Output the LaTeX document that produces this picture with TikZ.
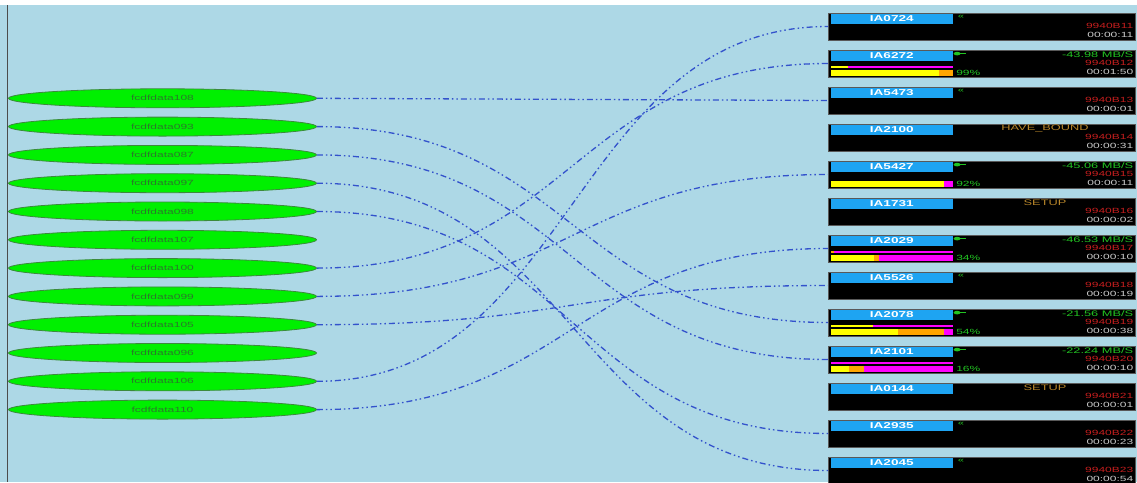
\documentclass[tikz,border=0pt]{standalone}
\usepackage{fontspec}
\usetikzlibrary{shapes.geometric, calc}
\newfontfamily\widesans[FakeStretch=1.6]{Liberation Sans}
\definecolor{bgblue}{HTML}{ADD8E6}
\definecolor{linkblue}{HTML}{3352CC}
\definecolor{hostgreen}{HTML}{00F000}
\definecolor{hostedge}{HTML}{3C8A3C}
\definecolor{hosttext}{HTML}{2A7A2A}
\definecolor{idblue}{HTML}{1EA4F2}
\definecolor{jobred}{HTML}{C41E1E}
\definecolor{timegray}{HTML}{C8C8C8}
\definecolor{rategreen}{HTML}{22C422}
\definecolor{stateorange}{HTML}{B8862A}
\definecolor{baryellow}{HTML}{FFFF00}
\definecolor{barorange}{HTML}{FFA500}
\definecolor{barmagenta}{HTML}{FF00FF}

\begin{document}
\begin{tikzpicture}[
  x=1pt, y=-1pt,
  host/.style={
    ellipse, draw=hostedge, line width=0.8pt, fill=hostgreen,
    minimum width=308pt, minimum height=19pt, inner sep=0pt,
    font=\widesans\fontsize{7.5}{8}\selectfont, text=hosttext
  },
  drive/.style={
    draw=gray!70!black, line width=0.8pt, fill=black,
    minimum width=307pt, minimum height=27pt, inner sep=0pt
  },
  idbar/.style={
    fill=idblue, minimum width=122pt, minimum height=9.5pt, inner sep=0pt,
    font=\widesans\bfseries\fontsize{8.5}{9}\selectfont, text=white
  },
  jobtxt/.style={font=\widesans\fontsize{7.5}{8}\selectfont, inner sep=0pt, anchor=east},
  statetxt/.style={font=\widesans\fontsize{8}{8}\selectfont, inner sep=0pt, text=stateorange},
  pcttxt/.style={font=\widesans\fontsize{7.5}{8}\selectfont, inner sep=0pt, anchor=west, text=rategreen},
  idle/.style={font=\widesans\fontsize{7}{7}\selectfont, inner sep=0pt, text=rategreen},
  link/.style={linkblue, line width=1.3pt,
    dash pattern=on 6pt off 3pt on 1.5pt off 3pt on 1.5pt off 3pt},
]
\useasboundingbox (0,0) rectangle (1137,482);

% Background
\fill[bgblue] (0,0) rectangle (1137,482);
\fill[white] (0,0) rectangle (1137,5);
\draw[gray!60!black, line width=1pt] (7,5) -- (7,482);

% Data hosts
\node[host] (d108) at (162.5,98.3) {fcdfdata108};
\node[host] (d093) at (162.5,126.6) {fcdfdata093};
\node[host] (d087) at (162.5,154.9) {fcdfdata087};
\node[host] (d097) at (162.5,183.2) {fcdfdata097};
\node[host] (d098) at (162.5,211.5) {fcdfdata098};
\node[host] (d107) at (162.5,239.8) {fcdfdata107};
\node[host] (d100) at (162.5,268.1) {fcdfdata100};
\node[host] (d099) at (162.5,296.4) {fcdfdata099};
\node[host] (d105) at (162.5,324.7) {fcdfdata105};
\node[host] (d096) at (162.5,353.0) {fcdfdata096};
\node[host] (d106) at (162.5,381.3) {fcdfdata106};
\node[host] (d110) at (162.5,409.6) {fcdfdata110};

% Tape drives
\foreach \n/\t [count=\i from 0] in {IA0724/00:00:11, IA6272/00:01:50,
    IA5473/00:00:01, IA2100/00:00:31, IA5427/00:00:11, IA1731/00:00:02,
    IA2029/00:00:10, IA5526/00:00:19, IA2078/00:00:38, IA2101/00:00:10,
    IA0144/00:00:01, IA2935/00:00:23, IA2045/00:00:54}{
  \pgfmathtruncatemacro{\j}{11+\i}
  \node[drive] (\n) at (982,26.5+37*\i) {};
  \node[idbar, anchor=north west] (\n-id) at ([shift={(2.5,1.5)}]\n.north west) {\n};
  \node[jobtxt, text=jobred] (\n-job) at ([shift={(-2.5,-1)}]\n.east) {9940B\j};
  \node[jobtxt, text=timegray] (\n-time) at ([shift={(-2.5,8)}]\n.east) {\t};
}

% Idle drives
\foreach \n in {IA0724, IA5473, IA5526, IA2935, IA2045}
  \node[idle] (\n-idle) at ([shift={(133,4.5)}]\n.north west) {\guillemotleft};

% Drive states
\node[statetxt] (IA2100-state) at ([shift={(63,-9)}]IA2100.center) {HAVE\_BOUND};
\node[statetxt] (IA1731-state) at ([shift={(63,-9)}]IA1731.center) {SETUP};
\node[statetxt] (IA0144-state) at ([shift={(63,-9)}]IA0144.center) {SETUP};

% Busy drives: rate, activity lamp, percentage
\foreach \n/\r/\p in {IA6272/-43.98/99, IA5427/-45.06/92, IA2029/-46.53/34,
    IA2078/-21.56/54, IA2101/-22.24/16}{
  \node[jobtxt, text=rategreen, font=\widesans\fontsize{8}{8}\selectfont]
    (\n-rate) at ([shift={(-2.5,-8.5)}]\n.east) {\r{} MB/S};
  \fill[rategreen] ([shift={(129,4)}]\n.north west) ellipse [x radius=3.5, y radius=1.8];
  \draw[rategreen, line width=0.6pt] ([shift={(132,4)}]\n.north west) -- +(6,0);
  \node[pcttxt] (\n-pct) at ([shift={(128,23)}]\n.north west) {\p\%};
}

% Progress bars
\fill[baryellow] ([shift={(2.5,16)}]IA6272.north west) rectangle +(17,2.5);
\fill[barmagenta] ([shift={(19.5,16)}]IA6272.north west) rectangle +(105,2.5);
\fill[baryellow] ([shift={(2.5,20)}]IA6272.north west) rectangle +(108,6);
\fill[barorange] ([shift={(110.5,20)}]IA6272.north west) rectangle +(14,6);

\fill[baryellow] ([shift={(2.5,20)}]IA5427.north west) rectangle +(113,6);
\fill[barmagenta] ([shift={(115.5,20)}]IA5427.north west) rectangle +(9,6);

\fill[barorange] ([shift={(2.5,16)}]IA2029.north west) rectangle +(3,2.5);
\fill[barmagenta] ([shift={(5.5,16)}]IA2029.north west) rectangle +(119,2.5);
\fill[baryellow] ([shift={(2.5,20)}]IA2029.north west) rectangle +(43,6);
\fill[barorange] ([shift={(45.5,20)}]IA2029.north west) rectangle +(5,6);
\fill[barmagenta] ([shift={(50.5,20)}]IA2029.north west) rectangle +(74,6);

\fill[baryellow] ([shift={(2.5,16)}]IA2078.north west) rectangle +(42,2.5);
\fill[barmagenta] ([shift={(44.5,16)}]IA2078.north west) rectangle +(80,2.5);
\fill[baryellow] ([shift={(2.5,20)}]IA2078.north west) rectangle +(67,6);
\fill[barorange] ([shift={(69.5,20)}]IA2078.north west) rectangle +(46,6);
\fill[barmagenta] ([shift={(115.5,20)}]IA2078.north west) rectangle +(9,6);

\fill[barmagenta] ([shift={(2.5,16)}]IA2101.north west) rectangle +(122,2.5);
\fill[baryellow] ([shift={(2.5,20)}]IA2101.north west) rectangle +(18,6);
\fill[barorange] ([shift={(20.5,20)}]IA2101.north west) rectangle +(15,6);
\fill[barmagenta] ([shift={(35.5,20)}]IA2101.north west) rectangle +(89,6);

% Transfers
\draw[link] (d108.east) -- (IA5473.west);
\draw[link] (d093.east) .. controls +(256,0) and +(-256,0) .. (IA2078.west);
\draw[link] (d087.east) .. controls +(256,0) and +(-256,0) .. (IA2101.west);
\draw[link] (d097.east) .. controls +(256,0) and +(-256,0) .. (IA2045.west);
\draw[link] (d098.east) .. controls +(256,0) and +(-256,0) .. (IA2935.west);
\draw[link] (d100.east) .. controls +(256,0) and +(-256,0) .. (IA6272.west);
\draw[link] (d099.east) .. controls +(256,0) and +(-256,0) .. (IA5427.west);
\draw[link] (d105.east) .. controls +(256,0) and +(-256,0) .. (IA5526.west);
\draw[link] (d106.east) .. controls +(256,0) and +(-256,0) .. (IA0724.west);
\draw[link] (d110.east) .. controls +(256,0) and +(-256,0) .. (IA2029.west);

\end{tikzpicture}
\end{document}
